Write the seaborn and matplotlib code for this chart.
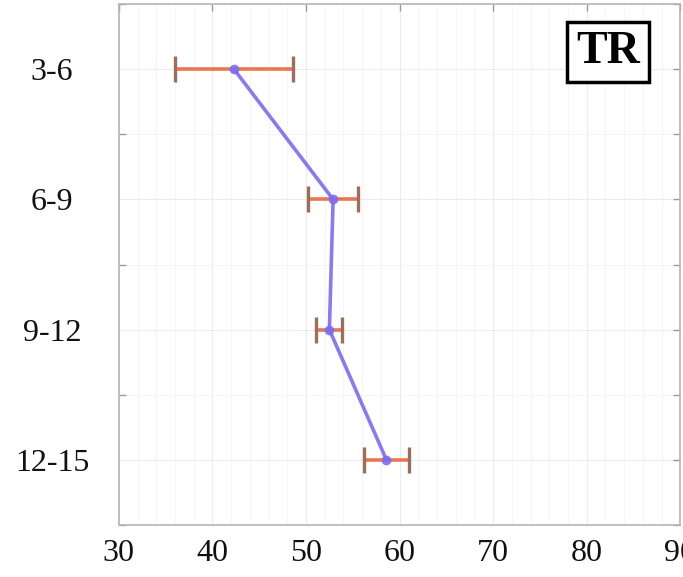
import matplotlib
matplotlib.use("Agg")
import matplotlib.pyplot as plt
from matplotlib.ticker import MultipleLocator
import numpy as np
import pandas as pd
import seaborn as sns

# Age groups and their mean scores with spread
age_groups = ["3-6", "6-9", "9-12", "12-15"]
mean_score = [42.3, 52.9, 52.5, 58.6]
spread = [6.3, 2.7, 1.4, 2.4]
x_ticks = [30, 40, 50, 60, 70, 80, 90]
panel_label = "TR"

df = pd.DataFrame({"group": age_groups, "score": mean_score, "err": spread})
df["pos"] = np.arange(len(age_groups))

sns.set_theme(style="white")
plt.rcParams["font.family"] = ["Liberation Serif", "DejaVu Serif"]

fig = plt.figure(figsize=(6.83, 5.77), dpi=100)
ax = fig.add_axes([0.174, 0.090, 0.822, 0.903])

# spread of each group
ax.errorbar(df["score"], df["pos"], xerr=df["err"], fmt="none",
            ecolor="#e8774f", elinewidth=2.6, capsize=0, zorder=2)
# caps drawn in a darker tone
for _, r in df.iterrows():
    for xv in (r["score"] - r["err"], r["score"] + r["err"]):
        ax.plot([xv, xv], [r["pos"] - 0.1, r["pos"] + 0.1],
                color="#9c6e5c", lw=2.4, solid_capstyle="butt", zorder=3)

# mean trajectory across age groups
sns.lineplot(data=df, x="score", y="pos", sort=False, estimator=None,
             color="#7b6cf0", linewidth=2.6, marker="o", markersize=7,
             markeredgewidth=0, alpha=0.9, ax=ax, zorder=4)

ax.set_xlim(30, 90)
ax.set_ylim(3.5, -0.5)
ax.set_xticks(x_ticks)
ax.set_xticklabels([str(v) for v in x_ticks], fontsize=23)
ax.set_yticks(df["pos"])
ax.set_yticklabels(age_groups, fontsize=23, ha="center")
ax.yaxis.set_minor_locator(MultipleLocator(0.5))
ax.xaxis.set_minor_locator(MultipleLocator(2))
ax.set_xlabel("")
ax.set_ylabel("")

ax.grid(which="major", color="#ececec", linewidth=0.8)
ax.grid(which="minor", color="#f4f4f4", linewidth=0.6)
ax.set_axisbelow(True)

for s in ax.spines.values():
    s.set_color("#b5b5b5")
    s.set_linewidth(1.2)
ax.tick_params(which="both", direction="in", top=True, right=True,
               color="#9a9a9a", length=5, width=1)
ax.tick_params(which="minor", length=0)
ax.tick_params(axis="y", which="minor", length=5, left=True, right=True)
ax.tick_params(axis="x", which="major", pad=10, labelcolor="#111111")
ax.tick_params(axis="y", which="major", pad=48, labelcolor="#111111")

ax.text(0.872, 0.908, panel_label, transform=ax.transAxes, ha="center", va="center",
        fontsize=33, fontweight="bold", color="black",
        bbox=dict(boxstyle="square,pad=0.2", facecolor="white",
                  edgecolor="black", linewidth=2.5), zorder=6)

fig.savefig("out.png", dpi=100)
